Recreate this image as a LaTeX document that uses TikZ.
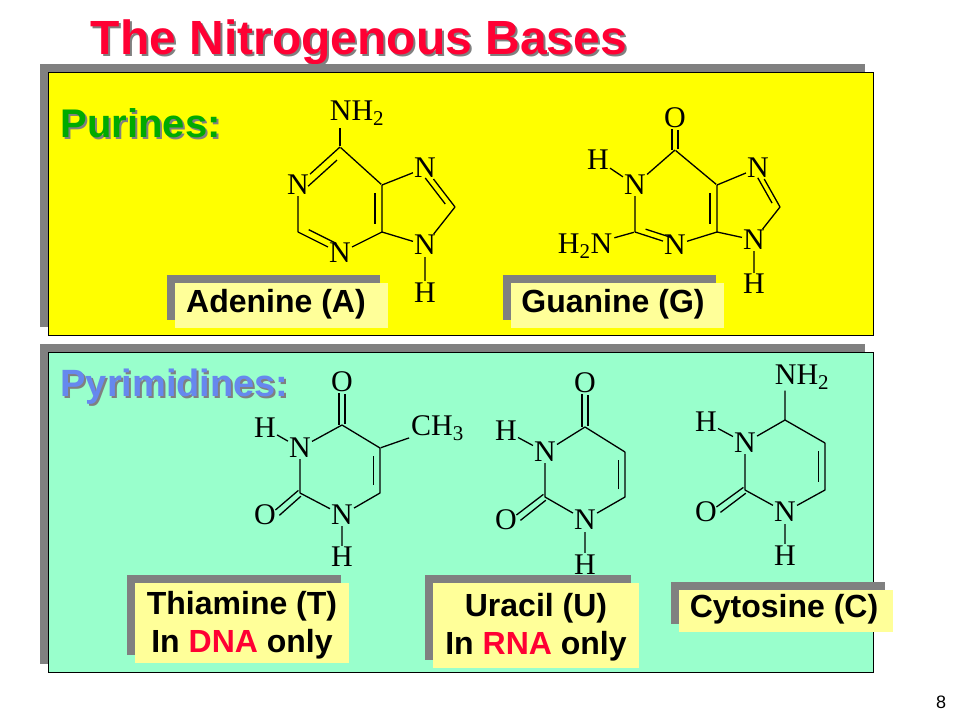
\documentclass[tikz,border=0pt]{standalone}
\usepackage{fontspec}
\setmainfont{Liberation Sans}
\newfontfamily\tms{Liberation Serif}
\usetikzlibrary{calc}
\definecolor{panY}{RGB}{255,255,0}
\definecolor{panC}{RGB}{153,255,204}
\definecolor{lab}{RGB}{255,255,153}
\definecolor{shd}{RGB}{128,128,128}
\definecolor{ttl}{RGB}{255,0,51}
\definecolor{pur}{RGB}{0,170,0}
\definecolor{pyr}{RGB}{102,136,238}
\tikzset{
 panel/.style={draw=black,line width=0.8pt},
 atm/.style={font=\tms\fontsize{30}{30}\selectfont,inner sep=1pt},
 bd/.style={line width=1.3pt,shorten <=1pt,shorten >=1pt},
 lname/.style={font=\bfseries\fontsize{32}{38}\selectfont,align=center},
}
\newcommand\dbl[3]{\draw[bd,shorten <=4pt,shorten >=4pt] ($(#1)!.17!(#3)$) -- ($(#2)!.17!(#3)$);}
\begin{document}
\begin{tikzpicture}[x=1pt,y=-1pt]
\useasboundingbox (0,0) rectangle (960,720);
\fill[white] (0,0) rectangle (960,720);
% title
\node[font=\bfseries\fontsize{48}{48}\selectfont,text=shd] at (361,44) {The Nitrogenous Bases};
\node[font=\bfseries\fontsize{48}{48}\selectfont,text=ttl] (title) at (359,42) {The Nitrogenous Bases};
% panels
\fill[shd] (40,64) rectangle (865,327);
\fill[panY] (48,72) rectangle (873,335);
\draw[panel] (48,72) rectangle (873,335);
\fill[shd] (40,344) rectangle (865,664);
\fill[panC] (48,352) rectangle (873,672);
\draw[panel] (48,352) rectangle (873,672);
\node[font=\bfseries\fontsize{40}{40}\selectfont,text=shd,anchor=west] at (59,125) {Purines:};
\node[font=\bfseries\fontsize{40}{40}\selectfont,text=pur,anchor=west] (pu) at (57,123) {Purines:};
\node[font=\bfseries\fontsize{38}{38}\selectfont,text=shd,anchor=west] at (59,389) {Pyrimidines:};
\node[font=\bfseries\fontsize{38}{38}\selectfont,text=pyr,anchor=west] (py) at (57,387) {Pyrimidines:};
% label boxes
\fill[shd] (167,275) rectangle (380,320);
\fill[lab] (175,283) rectangle (388,328);
\node[lname] (la) at (276,304) {Adenine (A)};
\fill[shd] (503,275) rectangle (716,320);
\fill[lab] (511,283) rectangle (724,328);
\node[lname] (lg) at (613,304) {Guanine (G)};
\fill[shd] (127,575) rectangle (341,655);
\fill[lab] (135,583) rectangle (349,663);
\node[lname] (lt) at (242,625) {Thiamine (T)\\In {\color{ttl}DNA} only};
\fill[shd] (425,575) rectangle (631,660);
\fill[lab] (433,583) rectangle (639,668);
\node[lname] (lu) at (536,627) {Uracil (U)\\In {\color{ttl}RNA} only};
\fill[shd] (671,582) rectangle (885,624);
\fill[lab] (679,590) rectangle (893,632);
\node[lname] (lc) at (784,609) {Cytosine (C)};
% ---- Adenine
\node[atm] (aNH) at (357,113) {NH\textsubscript{2}};
\coordinate (aC6) at (340,147);
\node[atm] (aN1) at (298,185) {N};
\coordinate (aC2) at (298,232);
\node[atm] (aN3) at (340,253) {N};
\coordinate (aC4) at (382,232);
\coordinate (aC5) at (382,185);
\node[atm] (aN7) at (425,168) {N};
\coordinate (aC8) at (455,207);
\node[atm] (aN9) at (425,245) {N};
\node[atm] (aH) at (425,293) {H};
\coordinate (ac1) at (340,208);
\coordinate (ac2) at (412,208);
\draw[bd] (aC6) -- (aNH.south -| aC6);
\draw[bd] (aC6)--(aN1) (aN1)--(aC2) (aC2)--(aN3) (aN3)--(aC4) (aC4)--(aC5) (aC5)--(aC6);
\draw[bd] (aC5)--(aN7) (aN7)--(aC8) (aC8)--(aN9) (aN9)--(aC4) (aN9)--(aH);
\dbl{aC6}{aN1}{ac1} \dbl{aC2}{aN3}{ac1} \dbl{aC4}{aC5}{ac1} \dbl{aN7}{aC8}{ac2}
% ---- Guanine
\node[atm] (gO) at (675,118) {O};
\coordinate (gC6) at (675,150);
\node[atm] (gN1) at (635,185) {N};
\coordinate (gC2) at (635,232);
\node[atm] (gN3) at (675,245) {N};
\coordinate (gC4) at (717,232);
\coordinate (gC5) at (717,185);
\node[atm] (gN7) at (758,168) {N};
\coordinate (gC8) at (780,207);
\node[atm] (gN9) at (754,240) {N};
\node[atm] (gH9) at (754,284) {H};
\node[atm] (gH1) at (598,160) {H};
\node[atm] (gNH) at (585,246) {H\textsubscript{2}N};
\coordinate (gc1) at (675,208);
\coordinate (gc2) at (745,205);
\draw[bd] (gC6)--(gN1) (gN1)--(gC2) (gC2)--(gN3) (gN3)--(gC4) (gC4)--(gC5) (gC5)--(gC6);
\draw[bd] (gC5)--(gN7) (gN7)--(gC8) (gC8)--(gN9) (gN9)--(gC4) (gN9)--(gH9) (gN1)--(gH1) (gC2)--(gNH);
\draw[bd] ($(gC6)+(-3,0)$) -- ($(gO.south)+(-3,0)$) ($(gC6)+(3,0)$) -- ($(gO.south)+(3,0)$);
\dbl{gC2}{gN3}{gc1} \dbl{gC4}{gC5}{gc1} \dbl{gN7}{gC8}{gc2}
% ---- Thymine
\node[atm] (tO4) at (342,382) {O};
\coordinate (tC4) at (342,425);
\node[atm] (tN3) at (300,448) {N};
\node[atm] (tH3) at (265,428) {H};
\coordinate (tC2) at (300,493);
\node[atm] (tO2) at (265,515) {O};
\node[atm] (tN1) at (342,515) {N};
\node[atm] (tH1) at (342,557) {H};
\coordinate (tC6) at (380,493);
\coordinate (tC5) at (380,448);
\node[atm,anchor=west] (tMe) at (410,428) {CH\textsubscript{3}};
\coordinate (tc) at (340,470);
\draw[bd] (tC4)--(tN3) (tN3)--(tC2) (tC2)--(tN1) (tN1)--(tC6) (tC6)--(tC5) (tC5)--(tC4) (tN3)--(tH3) (tN1)--(tH1) (tC5)--(tMe);
\draw[bd] ($(tC4)+(-3,0)$) -- ($(tO4.south)+(-3,0)$) ($(tC4)+(3,0)$) -- ($(tO4.south)+(3,0)$);
\draw[bd] ($(tC2)+(-1.6,-2.6)$)--($(tO2.east)+(-1.6,-5)$) ($(tC2)+(1.6,2.6)$)--($(tO2.east)+(1.6,1)$);
\dbl{tC6}{tC5}{tc}
% ---- Uracil
\node[atm] (uO4) at (585,383) {O};
\coordinate (uC4) at (585,427);
\node[atm] (uN3) at (545,452) {N};
\node[atm] (uH3) at (506,431) {H};
\coordinate (uC2) at (545,497);
\node[atm] (uO2) at (506,520) {O};
\node[atm] (uN1) at (585,520) {N};
\node[atm] (uH1) at (585,565) {H};
\coordinate (uC6) at (625,497);
\coordinate (uC5) at (625,452);
\coordinate (uc) at (585,475);
\draw[bd] (uC4)--(uN3) (uN3)--(uC2) (uC2)--(uN1) (uN1)--(uC6) (uC6)--(uC5) (uC5)--(uC4) (uN3)--(uH3) (uN1)--(uH1);
\draw[bd] ($(uC4)+(-3,0)$) -- ($(uO4.south)+(-3,0)$) ($(uC4)+(3,0)$) -- ($(uO4.south)+(3,0)$);
\draw[bd] ($(uC2)+(-1.6,-2.6)$)--($(uO2.east)+(-1.6,-5)$) ($(uC2)+(1.6,2.6)$)--($(uO2.east)+(1.6,1)$);
\dbl{uC6}{uC5}{uc}
% ---- Cytosine
\node[atm] (cNH) at (802,377) {NH\textsubscript{2}};
\coordinate (cC4) at (785,420);
\node[atm] (cN3) at (745,443) {N};
\node[atm] (cH3) at (706,422) {H};
\coordinate (cC2) at (745,490);
\node[atm] (cO2) at (706,512) {O};
\node[atm] (cN1) at (785,512) {N};
\node[atm] (cH1) at (785,556) {H};
\coordinate (cC6) at (825,490);
\coordinate (cC5) at (825,443);
\coordinate (cc) at (785,466);
\draw[bd] (cC4)--(cNH.south -| cC4) (cC4)--(cN3) (cN3)--(cC2) (cC2)--(cN1) (cN1)--(cC6) (cC6)--(cC5) (cC5)--(cC4) (cN3)--(cH3) (cN1)--(cH1);
\draw[bd] ($(cC2)+(-1.6,-2.6)$)--($(cO2.east)+(-1.6,-5)$) ($(cC2)+(1.6,2.6)$)--($(cO2.east)+(1.6,1)$);
\dbl{cC6}{cC5}{cc}
% page number
\node[font=\fontsize{18}{18}\selectfont] (pg) at (941,702) {8};
\end{tikzpicture}
\end{document}
